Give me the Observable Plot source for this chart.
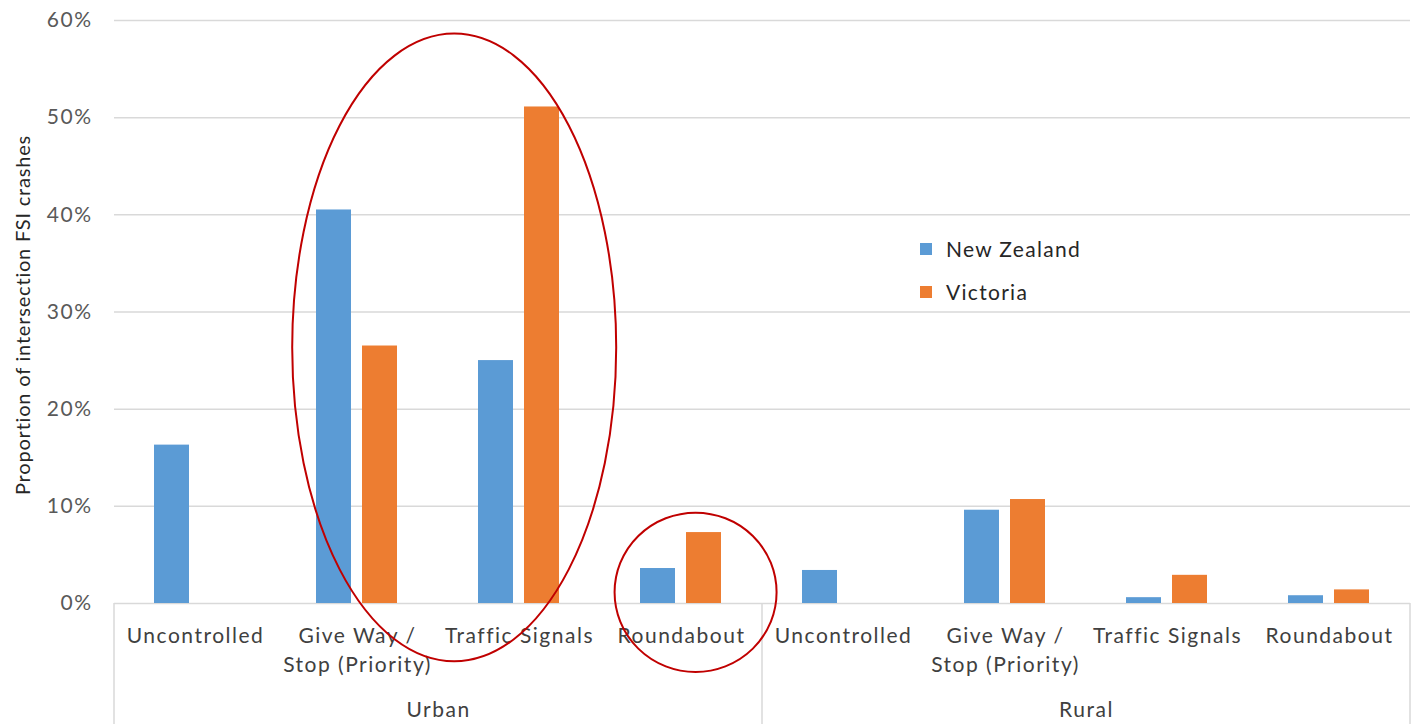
<!DOCTYPE html>
<html>
<head>
<meta charset="utf-8">
<script src="https://cdn.jsdelivr.net/npm/d3@7"></script>
<script src="https://cdn.jsdelivr.net/npm/@observablehq/plot@0.6"></script>
<style>
  html, body { margin: 0; padding: 0; background: #fff; overflow: hidden; }
  #chart { position: relative; width: 1411px; height: 724px; font-family: Lato, "Open Sans", sans-serif; }
  #ytitle {
    position: absolute; left: 22px; top: 315px;
    transform: translate(-50%, -50%) rotate(-90deg);
    white-space: nowrap; font-size: 20px; letter-spacing: 0.8px; color: #262626;
  }
  #legend { position: absolute; left: 920px; top: 227px; font-size: 21px; letter-spacing: 1.3px; color: #262626; }
  #legend .row { display: flex; align-items: center; height: 43px; }
  #legend .sw { width: 12px; height: 12px; margin-right: 14px; }
  svg text { letter-spacing: 1.5px; }
</style>
</head>
<body>
<div id="chart">
  <div id="ytitle">Proportion of intersection FSI crashes</div>
  <div id="legend"></div>
</div>
<script>
// Intersection control types, grouped by urban / rural area
const areas = ["Urban", "Rural"];
const controls = ["Uncontrolled", "Give Way /\nStop (Priority)", "Traffic Signals", "Roundabout"];
const seriesNames = ["New Zealand", "Victoria"];
const seriesColors = ["#5B9BD5", "#ED7D31"];

// Share of intersection FSI crashes (%), in control order, urban then rural
const newZealand = [16.3, 40.5, 25.0, 3.6, 3.4, 9.6, 0.6, 0.8];
const victoria   = [0,    26.5, 51.1, 7.3, 0,   10.7, 2.9, 1.4];

const yTicks = [0, 10, 20, 30, 40, 50, 60];

// Highlight ellipses: centre in category positions (0 = first category), half-width in
// categories; centre and half-height in percentage points
const calloutCenter = [1.6, 3.09];
const calloutHalfWidth = [1.0, 0.5];
const calloutValue = [26.3, 1.1];
const calloutHalfHeight = [32.3, 8.2];

// ---- tables built from the arrays above ----
const cats = areas.flatMap(a => controls.map(c => ({key: `${a}|${c}`, area: a, label: c})));
const keys = cats.map(d => d.key);
const rows = cats.flatMap((c, i) => [
  {key: c.key, series: seriesNames[0], value: newZealand[i]},
  {key: c.key, series: seriesNames[1], value: victoria[i]}
]);
const areaLabels = areas.map((a, i) => ({key: keys[i * controls.length + 1], text: a}));
const callouts = calloutCenter.map((c, i) => ({c, rx: calloutHalfWidth[i], v: calloutValue[i], ry: calloutHalfHeight[i]}));

// Group separators and highlight ellipses, drawn once (in the first facet, whose
// coordinates coincide with the full frame) using the plot's own scales
function decorations(index, scales, values, dims) {
  const g = d3.create("svg:g");
  if (!index || index.length === 0) return g.node();
  const {fx, y} = scales;
  const bw = fx && fx.bandwidth ? fx.bandwidth() : (dims.width - dims.marginLeft - dims.marginRight) / keys.length;
  const x0 = dims.marginLeft;
  const yBase = y(0);
  for (let i = 0; i <= areas.length; i++) {
    const xp = x0 + i * controls.length * bw;
    g.append("line")
      .attr("x1", xp).attr("x2", xp)
      .attr("y1", yBase).attr("y2", dims.height)
      .attr("stroke", "#d9d9d9").attr("stroke-width", 1.5);
  }
  for (const e of callouts) {
    g.append("ellipse")
      .attr("cx", x0 + (e.c + 0.5) * bw)
      .attr("cy", y(e.v))
      .attr("rx", e.rx * bw)
      .attr("ry", Math.abs(y(0) - y(e.ry)))
      .attr("fill", "none")
      .attr("stroke", "#C00000")
      .attr("stroke-width", 2);
  }
  return g.node();
}

const chart = Plot.plot({
  width: 1411,
  height: 724,
  marginTop: 20,
  marginBottom: 121,
  marginLeft: 113,
  marginRight: 0,
  style: {fontFamily: "Lato, 'Open Sans', sans-serif", fontSize: "21px", color: "#595959", background: "transparent"},
  fx: {domain: keys, padding: 0, axis: null, label: null},
  x: {domain: seriesNames, paddingInner: 0.234, paddingOuter: 0.843, axis: null},
  y: {domain: [0, 60], ticks: yTicks, tickFormat: d => d + "%", tickSize: 0, tickPadding: 22, label: null},
  color: {domain: seriesNames, range: seriesColors},
  marks: [
    Plot.ruleY(yTicks, {stroke: "#d9d9d9", strokeWidth: 1.5}),
    Plot.barY(rows, {fx: "key", x: "series", y: "value", fill: "series"}),
    Plot.text(cats, {
      fx: "key", text: "label", frameAnchor: "bottom", dy: 18,
      lineAnchor: "top", lineHeight: 1.42, fontSize: 21, fill: "#404040"
    }),
    Plot.text(areaLabels, {
      fx: "key", text: "text", frameAnchor: "bottom-right", dy: 107,
      lineAnchor: "middle", textAnchor: "middle", fontSize: 21, fill: "#404040"
    }),
    Plot.dot([keys[0]], {fx: d => d, frameAnchor: "middle", r: 1, render: decorations})
  ]
});
document.getElementById("chart").prepend(chart);

// Legend swatches
const legend = d3.select("#legend");
seriesNames.forEach((name, i) => {
  const row = legend.append("div").attr("class", "row");
  row.append("div").attr("class", "sw").style("background", seriesColors[i]);
  row.append("span").text(name);
});
</script>
</body>
</html>
